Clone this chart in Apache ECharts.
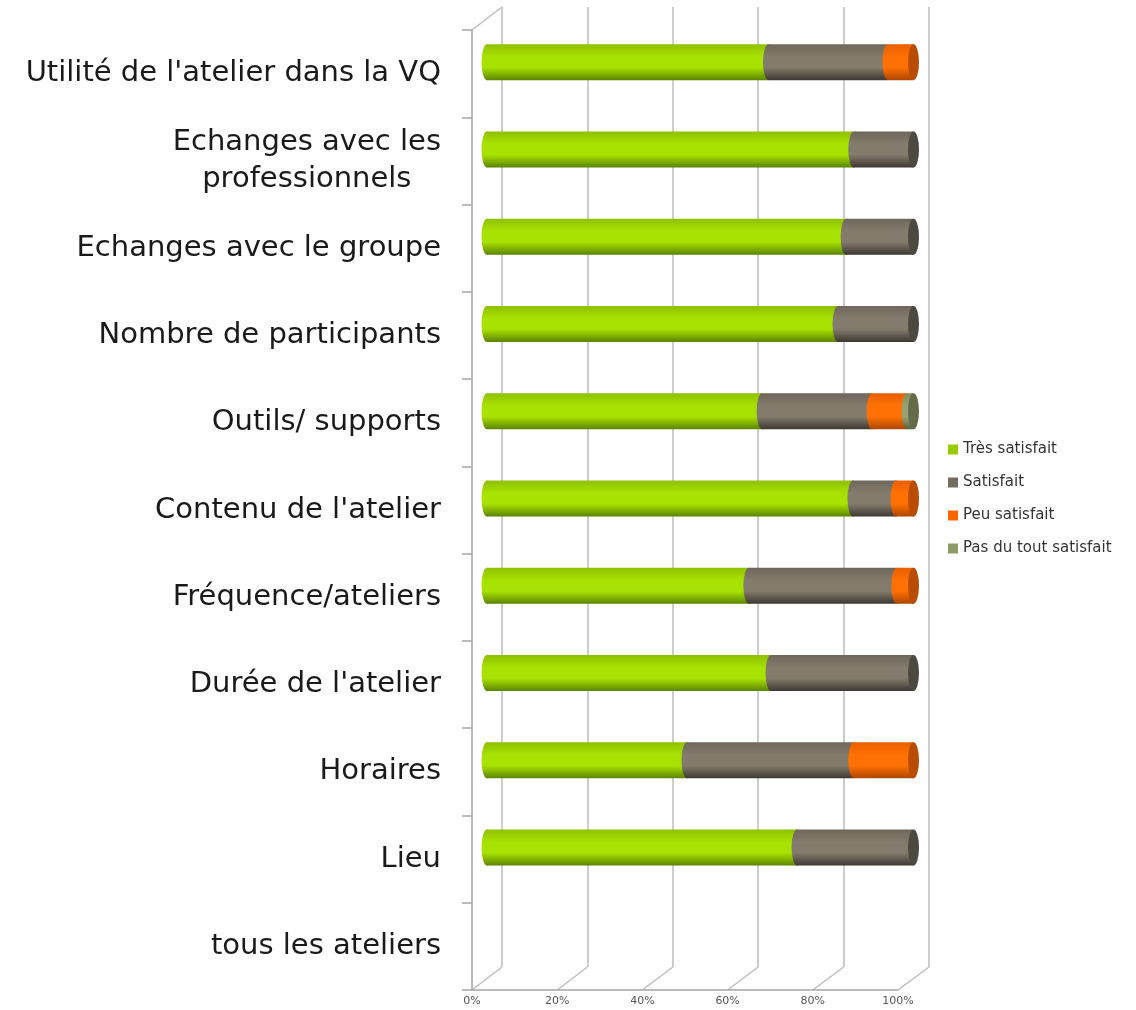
<!DOCTYPE html>
<html>
<head>
<meta charset="utf-8">
<script src="https://cdn.jsdelivr.net/npm/echarts@6/dist/echarts.min.js"></script>
<style>
  html, body { margin: 0; padding: 0; background: #fff; }
  #chart { width: 1136px; height: 1010px; }
</style>
</head>
<body>
<div id="chart"></div>
<script>
// categories, top to bottom
const categories = [
  "Utilité de l'atelier dans la VQ",
  "Echanges avec les\nprofessionnels",
  "Echanges avec le groupe",
  "Nombre de participants",
  "Outils/ supports",
  "Contenu de l'atelier",
  "Fréquence/ateliers",
  "Durée de l'atelier",
  "Horaires",
  "Lieu",
  "tous les ateliers"
];
const seriesNames = ["Très satisfait", "Satisfait", "Peu satisfait", "Pas du tout satisfait"];
// percentages
const tresSatisfait = [66.0, 86.0, 84.2, 82.3, 64.5, 85.8, 61.4, 66.6, 46.9, 72.7, 0];
const satisfait     = [28.0, 14.0, 15.8, 17.7, 25.8, 10.1, 34.7, 33.4, 39.1, 27.3, 0];
const peuSatisfait  = [6.0,  0,    0,    0,    8.2,  4.1,  3.9,  0,    14.0, 0,    0];
const pasDuTout     = [0,    0,    0,    0,    1.5,  0,    0,    0,    0,    0,    0];
const xTicks = [0, 20, 40, 60, 80, 100];

const values = [tresSatisfait, satisfait, peuSatisfait, pasDuTout];

// cylinder shading: top, middle, bottom, end face
const shades = [
  ['#8fc000', '#a8e202', '#5c8400', '#6f9a00'],
  ['#6e675b', '#837b6b', '#3d3832', '#4d4840'],
  ['#e85f00', '#ff7104', '#ad4600', '#b84c00'],
  ['#7f8a5a', '#97a174', '#5a6240', '#646b48']
];
const legendColors = ['#99cc00', '#746c60', '#ff6600', '#8f9a6a'];

const H = 1010;
const front = { left: 472, right: 238, top: 30, bottom: 20 };
const back = { left: 502, right: 207, top: 7, bottom: 43 };
const mid = { left: 487, right: 222.5, top: 18.5, bottom: 31.5 };
const barWidth = 36;
const capRx = 5.5;

function gradient(s) {
  return new echarts.graphic.LinearGradient(0, 0, 0, 1, [
    { offset: 0, color: s[0] },
    { offset: 0.35, color: s[1] },
    { offset: 0.65, color: s[1] },
    { offset: 1, color: s[2] }
  ]);
}

function ellipse(x, y, fill) {
  return {
    type: 'circle',
    x: x, y: y,
    scaleX: capRx / (barWidth / 2),
    shape: { cx: 0, cy: 0, r: barWidth / 2 },
    style: { fill: fill }
  };
}

// left end, segment joins and right end face of each cylinder
function renderCaps(params, api) {
  const row = api.value(1);
  const children = [];
  let acc = 0, last = -1;
  values.forEach((arr, k) => {
    const v = arr[row];
    if (!v) return;
    const p = api.coord([acc, row]);
    children.push(ellipse(p[0], p[1], gradient(shades[k])));
    acc += v;
    last = k;
  });
  if (last >= 0) {
    const p = api.coord([acc, row]);
    children.push(ellipse(p[0], p[1], shades[last][3]));
  }
  return { type: 'group', children: children };
}

const barSeries = seriesNames.map((name, k) => ({
  name: name,
  type: 'bar',
  stack: 'total',
  xAxisIndex: 0,
  yAxisIndex: 0,
  barWidth: barWidth,
  itemStyle: { color: gradient(shades[k]) },
  data: values[k]
}));

const chart = echarts.init(document.getElementById('chart'));
const font = 'DejaVu Sans';

const option = {
  animation: false,
  backgroundColor: '#fff',
  textStyle: { fontFamily: font },
  legend: {
    orient: 'vertical',
    left: 943,
    top: 437,
    itemWidth: 10,
    itemHeight: 10,
    itemGap: 18,
    icon: 'rect',
    textStyle: { fontSize: 15, color: '#333', fontFamily: font },
    data: seriesNames.map((n, k) => ({ name: n, itemStyle: { color: legendColors[k] } }))
  },
  grid: [
    Object.assign({}, mid),
    Object.assign({}, front),
    Object.assign({}, back)
  ],
  xAxis: [
    { gridIndex: 0, type: 'value', min: 0, max: 100, interval: 20, show: false },
    {
      gridIndex: 1, type: 'value', min: 0, max: 100, interval: 20,
      axisLine: { show: true, lineStyle: { color: '#a6a6a6', width: 1.5 } },
      axisTick: { show: false },
      splitLine: { show: false },
      axisLabel: { formatter: '{value}%', fontSize: 11, color: '#555', margin: 6 }
    },
    {
      gridIndex: 2, type: 'value', min: 0, max: 100, interval: 20,
      axisLine: { show: false }, axisTick: { show: false }, axisLabel: { show: false },
      splitLine: { show: true, lineStyle: { color: '#bdbdbd', width: 1.5 } }
    }
  ],
  yAxis: [
    { gridIndex: 0, type: 'category', inverse: true, data: categories, show: false },
    {
      gridIndex: 1, type: 'category', inverse: true, data: categories,
      axisLine: { show: true, lineStyle: { color: '#a6a6a6', width: 1.5 } },
      axisTick: { show: true, inside: false, length: 10, lineStyle: { color: '#a6a6a6', width: 1.5 } },
      axisLabel: {
        margin: 31,
        fontSize: 29,
        lineHeight: 37,
        color: '#1a1a1a',
        formatter: v => '{c|' + v.split('\n').join('}\n{c|') + '}',
        rich: { c: { align: 'center', fontSize: 29, lineHeight: 37, color: '#1a1a1a', fontFamily: font } }
      },
      splitLine: { show: false }
    },
    { gridIndex: 2, type: 'category', inverse: true, data: categories, show: false }
  ],
  series: barSeries.concat([{
    type: 'custom',
    xAxisIndex: 0,
    yAxisIndex: 0,
    z: 3,
    encode: { x: 0, y: 1 },
    data: categories.map((c, i) => [0, i]),
    renderItem: renderCaps
  }])
};

chart.setOption(option);

// floor and corner edges joining the front axes to the back wall
const edge = { stroke: '#bdbdbd', lineWidth: 1.5 };
const lines = xTicks.map(v => ({
  type: 'line',
  shape: {
    x1: chart.convertToPixel({ xAxisIndex: 1 }, v), y1: H - front.bottom,
    x2: chart.convertToPixel({ xAxisIndex: 2 }, v), y2: H - back.bottom
  },
  style: edge
}));
lines.push({
  type: 'line',
  shape: { x1: front.left, y1: front.top, x2: back.left, y2: back.top },
  style: edge
});
chart.setOption({ graphic: lines });
</script>
</body>
</html>
